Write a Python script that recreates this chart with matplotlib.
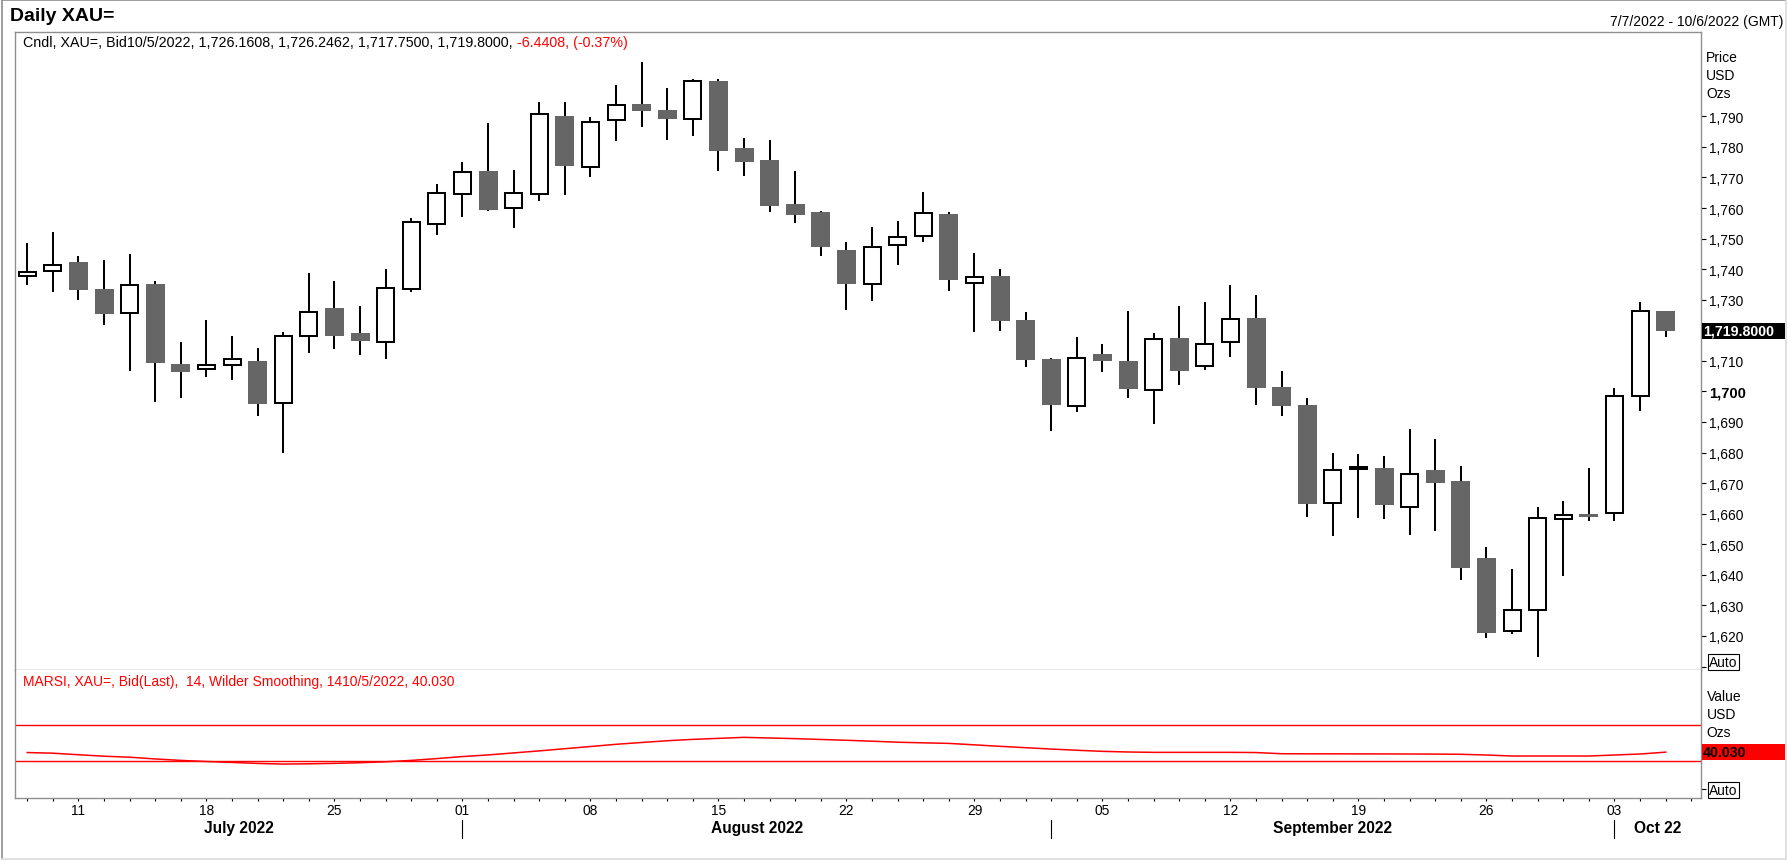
import numpy as np
import pandas as pd
import matplotlib
matplotlib.use("Agg")
import matplotlib.pyplot as plt
from matplotlib.patches import Rectangle
from matplotlib.lines import Line2D
import matplotlib.transforms as mtransforms

plt.rcParams['font.family'] = ['Liberation Sans', 'DejaVu Sans']

# trading days shown on the axis (last one has no candle yet)
days = pd.bdate_range("2022-07-07", "2022-10-06")

opens = [1737.7, 1739.3, 1742.3, 1733.5, 1725.6, 1735.1, 1709.0, 1707.2, 1708.6, 1710.0,
         1696.2, 1718.1, 1727.3, 1719.1, 1716.1, 1733.5, 1754.9, 1764.6, 1772.0, 1760.0,
         1764.6, 1790.1, 1773.3, 1788.9, 1794.0, 1792.1, 1789.1, 1801.4, 1779.6, 1775.7,
         1761.3, 1758.7, 1746.3, 1735.1, 1747.9, 1750.8, 1758.0, 1735.6, 1737.8, 1723.4,
         1710.6, 1695.2, 1712.1, 1710.0, 1700.5, 1717.5, 1708.3, 1716.3, 1724.0, 1701.4,
         1695.6, 1663.5, 1674.6, 1675.0, 1662.3, 1674.3, 1670.7, 1645.5, 1621.5, 1628.6,
         1658.3, 1660.0, 1660.3, 1698.5, 1726.1608]
highs = [1748.6, 1752.1, 1744.2, 1743.0, 1744.9, 1736.0, 1716.1, 1723.3, 1718.1, 1714.1,
         1719.5, 1738.6, 1736.0, 1727.9, 1740.0, 1756.6, 1767.9, 1775.0, 1787.8, 1772.4,
         1794.6, 1794.6, 1789.7, 1800.2, 1807.8, 1799.3, 1802.2, 1802.2, 1782.9, 1782.2,
         1772.0, 1758.9, 1748.8, 1753.7, 1755.7, 1765.1, 1758.6, 1745.2, 1740.0, 1725.9,
         1710.8, 1717.7, 1715.4, 1726.2, 1719.0, 1727.9, 1729.2, 1734.7, 1731.5, 1706.7,
         1697.9, 1679.9, 1679.5, 1678.9, 1687.8, 1684.5, 1675.6, 1649.1, 1642.0, 1662.1,
         1664.2, 1674.8, 1701.0, 1729.2, 1726.2462]
lows = [1734.8, 1732.6, 1730.0, 1721.8, 1706.8, 1696.6, 1697.9, 1704.8, 1703.8, 1692.0,
        1680.0, 1712.5, 1714.0, 1712.0, 1710.6, 1732.6, 1751.3, 1757.2, 1759.0, 1753.5,
        1762.2, 1764.4, 1770.2, 1782.0, 1786.6, 1782.3, 1783.7, 1772.2, 1770.6, 1758.8,
        1755.0, 1744.4, 1726.7, 1729.7, 1741.5, 1748.8, 1733.0, 1719.3, 1719.9, 1708.1,
        1687.2, 1693.4, 1706.5, 1698.0, 1689.4, 1702.2, 1707.1, 1711.4, 1695.7, 1692.1,
        1659.0, 1652.6, 1658.7, 1658.4, 1653.1, 1654.4, 1638.4, 1619.5, 1620.6, 1613.0,
        1639.7, 1657.7, 1657.7, 1693.7, 1717.75]
closes = [1739.2, 1741.5, 1733.3, 1725.4, 1734.9, 1709.2, 1706.5, 1708.5, 1710.7, 1696.0,
          1718.2, 1726.1, 1718.2, 1716.6, 1733.7, 1755.3, 1765.0, 1771.7, 1759.4, 1764.8,
          1790.9, 1773.8, 1788.2, 1793.8, 1791.8, 1789.2, 1801.7, 1778.7, 1775.1, 1760.8,
          1757.8, 1747.3, 1735.2, 1747.3, 1750.6, 1758.3, 1736.5, 1737.5, 1723.1, 1710.4,
          1695.7, 1711.0, 1709.9, 1700.7, 1717.2, 1706.8, 1715.6, 1723.8, 1701.2, 1695.3,
          1663.3, 1674.4, 1675.4, 1662.7, 1673.1, 1669.9, 1642.3, 1621.0, 1628.4, 1658.7,
          1659.6, 1659.0, 1698.6, 1726.2408, 1719.80]

rsi = [39.6, 38.9, 37.2, 35.6, 34.5, 32.6, 31.0, 29.8, 28.8, 27.7,
       27.0, 27.3, 27.8, 28.5, 29.5, 31.0, 33.0, 35.2, 37.0, 39.2,
       41.4, 43.8, 46.2, 48.6, 50.6, 52.5, 54.0, 55.1, 56.2, 55.5,
       54.8, 53.9, 53.0, 52.0, 50.9, 50.2, 49.6, 48.0, 46.4, 44.9,
       43.4, 42.1, 40.9, 40.2, 39.8, 39.8, 39.8, 39.8, 39.6, 38.3,
       38.2, 38.2, 38.1, 38.1, 38.0, 37.9, 37.7, 36.9, 35.8, 35.8,
       35.8, 35.8, 36.9, 38.0, 40.03]
rsi_levels = [30, 70]

price_ticks = list(range(1610, 1800, 10))

W, H = 1788, 862
GRAY_BODY = "#666666"
FRAME = "#8f8f8f"


def fx(px):
    return px / W


def fy(py):
    return 1 - py / H


fig = plt.figure(figsize=(W / 100, H / 100), dpi=100)
fig.patch.set_facecolor("white")

L, R = 15, 1701
ax = fig.add_axes([fx(L), fy(671), fx(R) - fx(L), fy(33) - fy(671)])
ax2 = fig.add_axes([fx(L), fy(799.3), fx(R) - fx(L), fy(671) - fy(799.3)], sharex=ax)

x = np.arange(len(closes))

# candles
ax.vlines(x, lows, highs, color="black", linewidth=1.45, zorder=2)
for i in range(len(closes)):
    o, c = opens[i], closes[i]
    if c >= o:
        w = 0.66
        ax.add_patch(Rectangle((i - w / 2, o), w, c - o, facecolor="white",
                               edgecolor="black", linewidth=1.45, zorder=3))
    else:
        w = 0.74
        ax.add_patch(Rectangle((i - w / 2, c), w, o - c, facecolor=GRAY_BODY,
                               edgecolor="none", zorder=3))

ax.set_xlim(-0.48, 65.38)
ax.set_ylim(1608.87, 1817.58)

# rsi panel
ax2.plot(x, rsi, color="red", linewidth=1.1)
for lv in rsi_levels:
    ax2.axhline(lv, color="red", linewidth=1.0)
ax2.set_ylim(-10.4, 129.8)

for a in (ax, ax2):
    for s in a.spines.values():
        s.set_color(FRAME)
        s.set_linewidth(1.0)
ax2.spines["top"].set_visible(False)

# right price axis; the last-price box hides the label it covers
last = closes[-1]
hidden = [t for t in price_ticks if t == 1610 or abs(t - last) < 4]
ax.yaxis.tick_right()
ax.set_yticks(price_ticks, ["" if t in hidden else f"{t:,}" for t in price_ticks])
ax.tick_params(axis="y", direction="out", length=3.5, width=0.8, color="black",
               pad=2.2, labelsize=9.9)
for tk in ax.yaxis.get_major_ticks():
    if tk.get_loc() == 1700:
        tk.label2.set_fontweight("bold")
        tk.label2.set_fontsize(10.6)
ax.tick_params(axis="x", bottom=False, labelbottom=False)

ax2.yaxis.tick_right()
ax2.set_yticks([0], [""])
ax2.tick_params(axis="y", direction="out", length=3.5, width=0.8, color="black")

# date axis: a tick every trading day, labels on Mondays
mondays = [i for i, d in enumerate(days) if d.weekday() == 0]
others = [i for i in range(len(days)) if i not in mondays]
ax2.set_xticks(mondays, [days[i].strftime("%d") for i in mondays])
ax2.set_xticks(others, minor=True)
ax2.tick_params(axis="x", which="both", direction="out", length=2.2, width=0.8,
                color="black", pad=1.2, labelsize=9.9)

# month separators and names
blend = mtransforms.blended_transform_factory(ax2.transData, fig.transFigure)
starts = [i for i in range(1, len(days)) if days[i].month != days[i - 1].month]
edges = [ax.get_xlim()[0]] + starts + [ax.get_xlim()[1]]
for s in starts:
    fig.add_artist(Line2D([s, s], [fy(820.7), fy(838.7)], transform=blend,
                          color="black", linewidth=0.8))
for k in range(len(edges) - 1):
    d = days[min(int(np.ceil(edges[k])), len(days) - 1)]
    name = "Oct 22" if d.month == 10 else d.strftime("%B %Y")
    fig.text((edges[k] + edges[k + 1]) / 2, fy(828.3), name, transform=blend,
             ha="center", va="center", fontsize=11.2, fontweight="bold")

# header texts
fig.text(fx(10), fy(16.7), "Daily XAU=", fontsize=14, fontweight="bold",
         ha="left", va="center")
fig.text(fx(1783), fy(21.7), "7/7/2022 - 10/6/2022 (GMT)", fontsize=10,
         ha="right", va="center")
chg = closes[-1] - closes[-2]
pct = chg / closes[-2] * 100
head = (f"Cndl, XAU=, Bid10/5/2022, {opens[-1]:,.4f}, {highs[-1]:,.4f}, "
        f"{lows[-1]:,.4f}, {closes[-1]:,.4f}, ")
t1 = fig.text(fx(23), fy(43), head, fontsize=10.3, ha="left", va="center")
ax.annotate(f"{chg:.4f}, ({pct:.2f}%)", xy=(1, 0.5), xycoords=t1, fontsize=10.3,
            ha="left", va="center", color="red", annotation_clip=False)
fig.text(fx(23), fy(682.3),
         f"MARSI, XAU=, Bid(Last),  14, Wilder Smoothing, 1410/5/2022, {rsi[-1]:.3f}",
         fontsize=10, color="red", ha="left", va="center")

for lbl, yy in zip(["Price", "USD", "Ozs"], [58, 76, 94]):
    fig.text(fx(1706), fy(yy), lbl, fontsize=10, ha="left", va="center")
for lbl, yy in zip(["Value", "USD", "Ozs"], [696.7, 715, 732.7]):
    fig.text(fx(1706.7), fy(yy), lbl, fontsize=10, ha="left", va="center")

for yy in (663, 791):
    fig.text(fx(1709), fy(yy), "Auto", fontsize=9.9, ha="left", va="center",
             bbox=dict(boxstyle="square,pad=0.08", facecolor="white",
                       edgecolor="black", linewidth=0.8))

# last value boxes
yp = ax.transData.transform((0, last))[1]
fig.add_artist(Rectangle((fx(1702), (yp - 8) / H), 83 / W, 16 / H,
                         transform=fig.transFigure, facecolor="black", edgecolor="none"))
fig.text(fx(1703), yp / H, f"{last:,.4f}", color="white", fontsize=10.2,
         fontweight="bold", ha="left", va="center")
yr = ax2.transData.transform((0, rsi[-1]))[1]
fig.add_artist(Rectangle((fx(1702), (yr - 8) / H), 83 / W, 16 / H,
                         transform=fig.transFigure, facecolor="#ff0000", edgecolor="none"))
fig.text(fx(1703), yr / H, f"{rsi[-1]:.3f}", color="black", fontsize=10.2,
         fontweight="bold", ha="left", va="center")

# outer frame
fig.add_artist(Line2D([fx(2), fx(2)], [fy(1), fy(860)], color="#8c8c8c", linewidth=1.2))
fig.add_artist(Line2D([fx(2), fx(1786)], [fy(1), fy(1)], color="#8c8c8c", linewidth=1.2))
fig.add_artist(Line2D([fx(1786), fx(1786)], [fy(1), fy(860)], color="#dcdcdc", linewidth=1.2))
fig.add_artist(Line2D([fx(2), fx(1786)], [fy(859.5), fy(859.5)], color="#dcdcdc", linewidth=1.2))

fig.savefig("out.png", dpi=100)
